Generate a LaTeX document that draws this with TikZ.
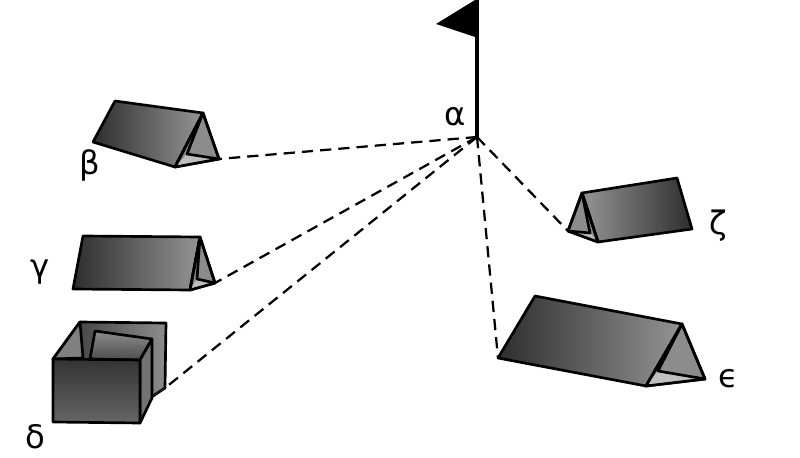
\documentclass[tikz,border=0pt]{standalone}
\usepackage{fontspec}
\setmainfont{DejaVu Sans}
\usepackage{tikz}
\usetikzlibrary{positioning}

\tikzset{
  edge/.style={line width=1.9pt, line join=round, black},
  sideface/.style={edge, left color=black!82, right color=black!42},
  sidefacer/.style={edge, left color=black!42, right color=black!82},
  frontface/.style={edge, fill=black!45},
  floorface/.style={fill=black!25},
  path/.style={line width=1.6pt, dash pattern=on 8pt off 5pt},
  lbl/.style={font=\fontsize{23}{27}\selectfont, inner sep=0pt}
}

\begin{document}
\begin{tikzpicture}[x=0.025cm, y=-0.025cm]
\useasboundingbox (0,0) rectangle (800,458);

\coordinate (a) at (477,137);

\coordinate (b1) at (93,142);
\coordinate (b2) at (115,101);
\coordinate (b3) at (203,113);
\coordinate (b4) at (175,167);
\coordinate (b5) at (219,159);
\coordinate (b6) at (187,154);

\coordinate (g1) at (73,289);
\coordinate (g2) at (83,236);
\coordinate (g3) at (200,237);
\coordinate (g4) at (190,290);
\coordinate (g5) at (215,283);
\coordinate (g6) at (197,279);

\coordinate (d1) at (53,359);
\coordinate (d2) at (140,360);
\coordinate (d3) at (140,423);
\coordinate (d4) at (53,422);
\coordinate (d5) at (80,322);
\coordinate (d6) at (166,323);
\coordinate (d7) at (165,388);
\coordinate (d8) at (153,396);

\coordinate (z1) at (582,193);
\coordinate (z2) at (677,178);
\coordinate (z3) at (692,229);
\coordinate (z4) at (598,242);
\coordinate (z5) at (568,231);
\coordinate (z6) at (590,233);

\coordinate (e1) at (498,358);
\coordinate (e2) at (535,296);
\coordinate (e3) at (682,324);
\coordinate (e4) at (646,386);
\coordinate (e5) at (705,379);
\coordinate (e6) at (658,371);

\draw[path] (a) -- (b5);
\draw[path] (a) -- (g5);
\draw[path] (a) -- (d7);
\draw[path] (a) -- (z5);
\draw[path] (a) -- (e1);

\draw[line width=3.5pt] (477,0) -- (a);
\fill (475,0) -- (436,24) -- (475,37) -- cycle;
\node[lbl] (alpha) at (455,117) {α};

\draw[sideface] (b1) -- (b2) -- (b3) -- (b4) -- cycle;
\draw[frontface] (b3) -- (b4) -- (b5) -- cycle;
\fill[floorface] (b4) -- (b6) -- (b5) -- cycle;
\draw[edge] (b3) -- (b6) -- (b5);
\draw[edge] (b3) -- (b4) -- (b5) -- cycle;
\node[lbl] (beta) at (90,165) {β};

\draw[sideface] (g1) -- (g2) -- (g3) -- (g4) -- cycle;
\draw[frontface] (g3) -- (g4) -- (g5) -- cycle;
\fill[floorface] (g4) -- (g6) -- (g5) -- cycle;
\draw[edge] (g3) -- (g6) -- (g5);
\draw[edge] (g3) -- (g4) -- (g5) -- cycle;
\node[lbl] (gamma) at (40,272) {γ};

\draw[edge, left color=black!80, right color=black!45] (d5) -- (d6) -- (d7) -- (d8) -- (140,400) -- (d1) -- cycle;
\fill[floorface] (d8) -- (d7) -- (150,398) -- cycle;
\draw[edge, fill=black!50] (d1) -- (d5) -- (83,358) -- cycle;
\draw[edge, top color=black!45, bottom color=black!70] (95,331) -- (152,339) -- (d2) -- (90,359) -- cycle;
\draw[edge, fill=black!55] (d2) -- (152,339) -- (152,398) -- (d3) -- cycle;
\draw[edge, top color=black!80, bottom color=black!60] (d1) -- (d2) -- (d3) -- (d4) -- cycle;
\node[lbl] (delta) at (35,437) {δ};

\draw[sidefacer] (z1) -- (z2) -- (z3) -- (z4) -- cycle;
\draw[frontface] (z1) -- (z5) -- (z4) -- cycle;
\fill[floorface] (z5) -- (z6) -- (z4) -- cycle;
\draw[edge] (z1) -- (z6) -- (z5);
\draw[edge] (z1) -- (z5) -- (z4) -- cycle;
\node[lbl] (zeta) at (718,226) {ζ};

\draw[sideface] (e1) -- (e2) -- (e3) -- (e4) -- cycle;
\draw[frontface] (e3) -- (e4) -- (e5) -- cycle;
\fill[floorface] (e4) -- (e6) -- (e5) -- cycle;
\draw[edge] (e3) -- (e6) -- (e5);
\draw[edge] (e3) -- (e4) -- (e5) -- cycle;
\node[lbl] (eps) at (728,379) {ϵ};

\end{tikzpicture}
\end{document}
